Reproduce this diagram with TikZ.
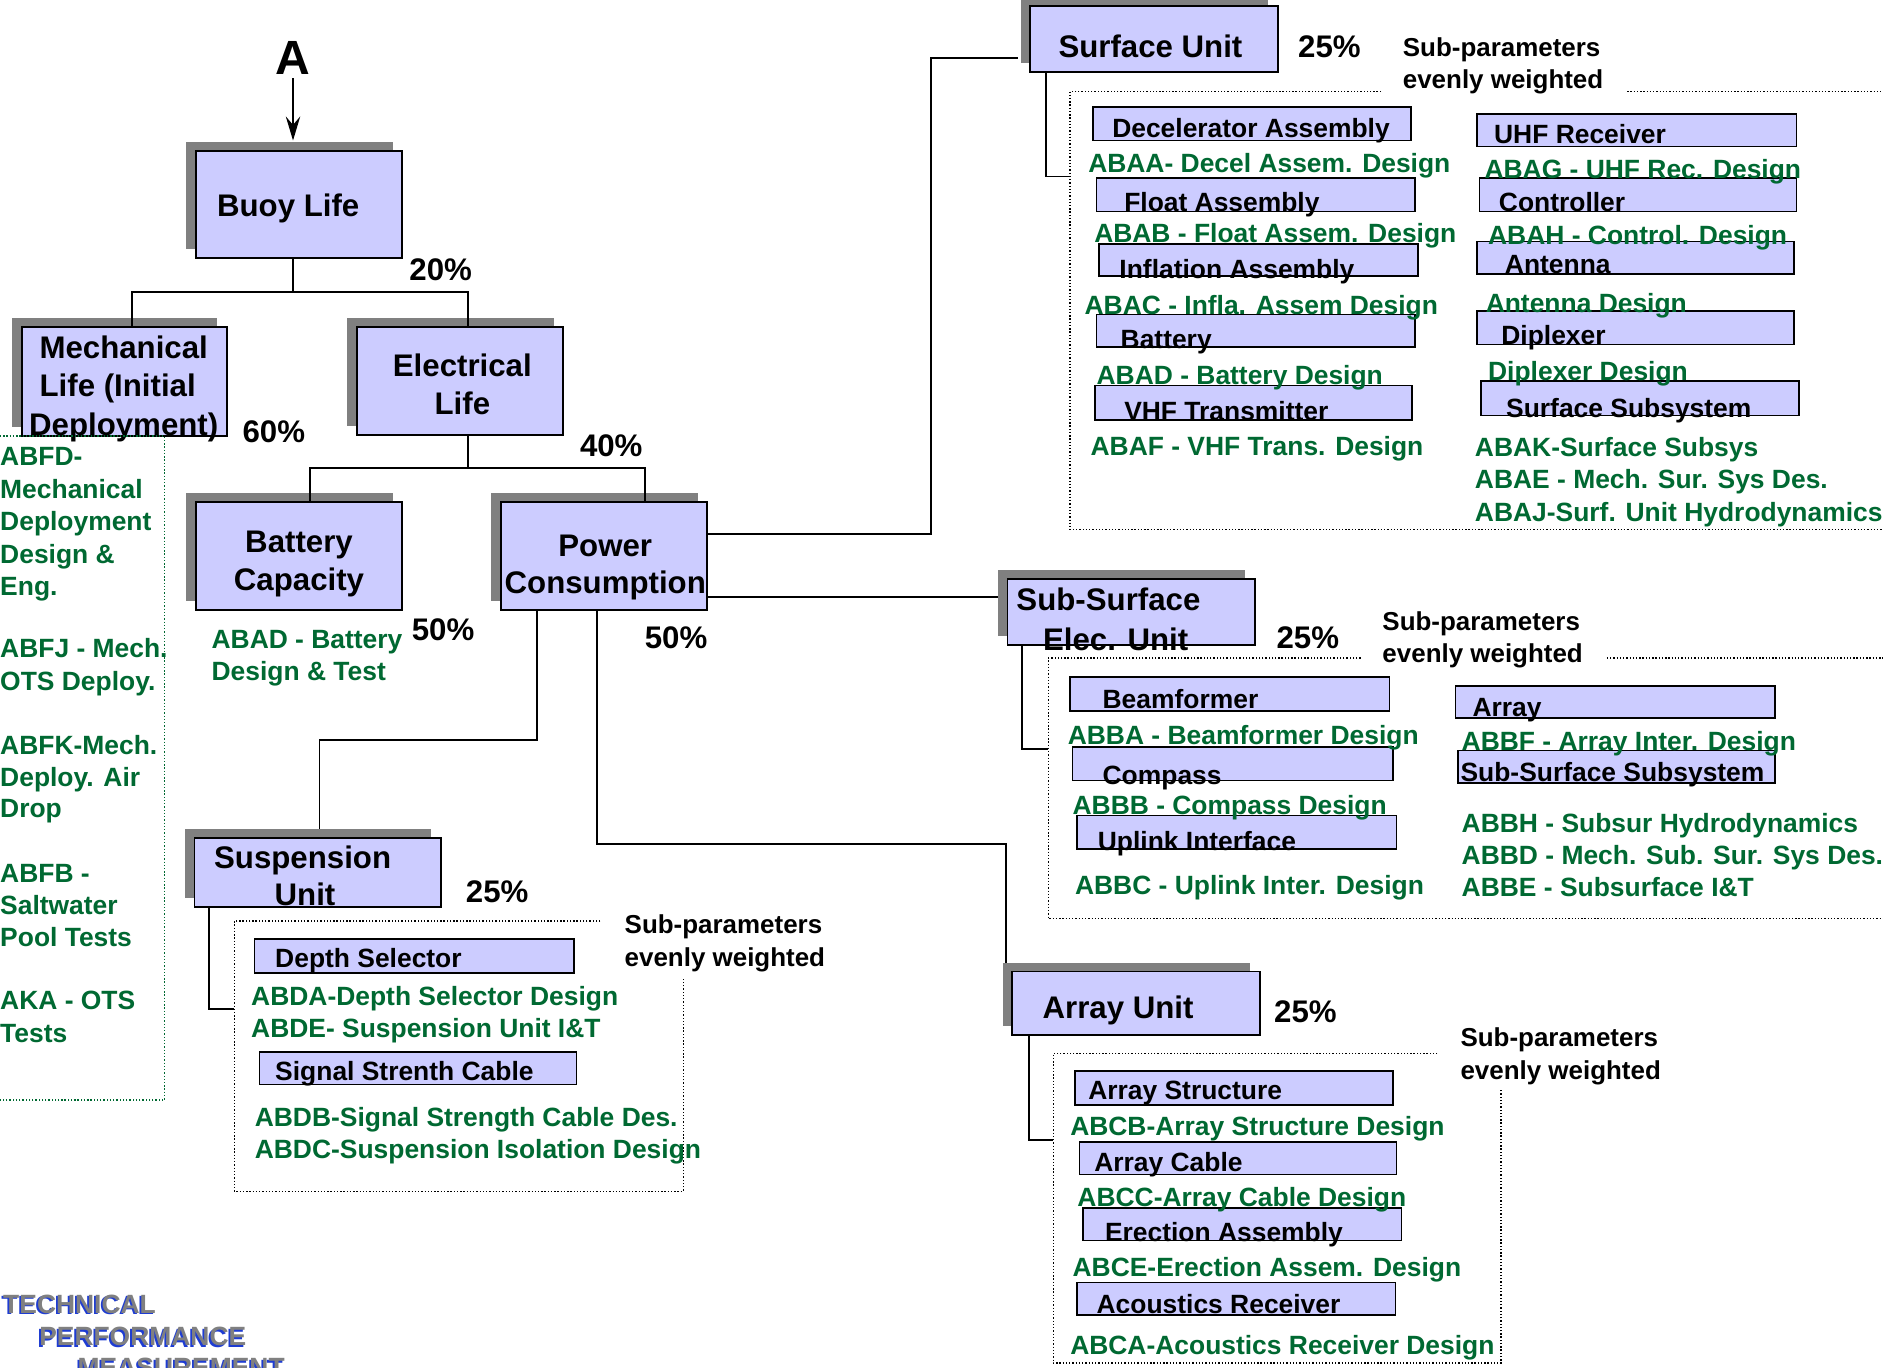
\documentclass[tikz,border=0pt]{standalone}
\usepackage{fontspec}
\setmainfont{Liberation Sans}
\usetikzlibrary{shadows,arrows.meta}
\definecolor{boxfill}{RGB}{204,204,255}
\definecolor{shgray}{RGB}{128,128,128}
\definecolor{dgreen}{RGB}{0,105,50}
\definecolor{tblue}{RGB}{30,60,210}
\definecolor{tgray}{RGB}{128,128,128}
\tikzset{
 mbox/.style={draw=black, line width=1.5pt, fill=boxfill, inner sep=0pt, outer sep=0pt,
   general shadow={fill=shgray, shadow xshift=-8pt, shadow yshift=7.5pt}},
 sbox/.style={draw=black, line width=1.4pt, fill=boxfill, inner sep=0pt, outer sep=0pt},
 mtxt/.style={font=\fontsize{26}{31}\selectfont\bfseries, inner sep=0pt, anchor=base},
 stxt/.style={font=\fontsize{22}{26}\selectfont\bfseries, inner sep=0pt, anchor=base west},
 ptxt/.style={font=\fontsize{21.6}{26}\selectfont\bfseries, inner sep=0pt, anchor=base west},
 gtxt/.style={font=\fontsize{22}{26}\selectfont\bfseries, text=dgreen, inner sep=0pt, anchor=base west},
 lgtxt/.style={font=\fontsize{22}{27}\selectfont\bfseries, text=dgreen, inner sep=0pt, anchor=base west},
 techtxt/.style={font=\fontsize{22}{27}\selectfont\bfseries, inner sep=0pt, anchor=base west},
 conn/.style={line width=1.5pt, draw=black},
 dotbox/.style={line width=1.1pt, dash pattern=on 1.1pt off 1.6pt},
}
\newcommand\MTX[4]{\node[mtxt] (#1) at ({#2},{#3+9.3}) {#4};}
\newcommand\GTX[4]{\node[gtxt] (#1) at ({#2},{#3+7.9}) {#4};}
\newcommand\LGT[4]{\node[lgtxt] (#1) at ({#2},{#3+7.9}) {#4};}
\newcommand\STX[4]{\node[ptxt] (#1) at ({#2},{#3+7.7}) {#4};}
\newcommand\MBX[5]{\node[mbox, minimum width={(#4-#2)*1pt}, minimum height={(#5-#3)*1pt}] (#1) at ({(#2+#4)/2},{(#3+#5)/2}) {};}
\newcommand\SBX[8]{\node[sbox, minimum width={(#4-#2)*1pt}, minimum height={(#5-#3)*1pt}] (#1) at ({(#2+#4)/2},{(#3+#5)/2}) {};
 \node[stxt] (#1t) at ({#6},{#7+7.9}) {#8};}
\begin{document}
\begin{tikzpicture}[x=1pt,y=-1pt]
\clip (0,0) rectangle (1568,1139);
\fill[white] (0,0) rectangle (1568,1139);

% ---------- connectors ----------
\coordinate (jb) at (244,243);
\coordinate (jbL) at (110,243);
\coordinate (jbR) at (390,243);
\coordinate (je) at (390,390);
\coordinate (jeL) at (258,390);
\coordinate (jeR) at (537,390);
\coordinate (p1) at (775,445);
\coordinate (p2) at (775,48);
\coordinate (ps) at (848,48);
\coordinate (p3) at (831,497);
\coordinate (q1) at (447,616);
\coordinate (q2) at (266,616);
\coordinate (q3) at (266,690);
\coordinate (r1) at (497,703);
\coordinate (r2) at (838,703);
\coordinate (r3) at (838,802);
\coordinate (s1) at (174,840);
\coordinate (s2) at (195,840);
\coordinate (t1) at (871,147);
\coordinate (t2) at (891,147);
\coordinate (u1) at (851,624);
\coordinate (u2) at (873,624);
\coordinate (v1) at (857,949);
\coordinate (v2) at (877,949);

% ---------- main boxes ----------
\MBX{buoy}{163}{126}{335}{215}
\MBX{mech}{18}{272}{189}{363}
\MBX{elec}{297}{272}{469}{362}
\MBX{batt}{163}{418}{335}{508}
\MBX{power}{417}{418}{589}{508}
\MBX{susp}{162}{698}{367}{755}
\MBX{surf}{858}{5}{1064}{60}
\MBX{subs}{839}{482}{1045}{537}
\MBX{arru}{843}{809}{1049}{862}

\draw[conn] (buoy.south -| jb) -- (jb);
\draw[conn] (mech.north -| jbL) -- (jbL) -- (jbR) -- (elec.north -| jbR);
\draw[conn] (elec.south -| je) -- (je);
\draw[conn] (batt.north -| jeL) -- (jeL) -- (jeR) -- (power.north -| jeR);
\draw[conn] (p1 -| power.east) -- (p1) -- (p2) -- (ps);
\draw[conn] (p3 -| power.east) -- (p3);
\draw[conn] (power.south -| q1) -- (q1) -- (q2) -- (q3);
\draw[conn] (power.south -| r1) -- (r1) -- (r2) -- (r3);
\draw[conn] (susp.south -| s1) -- (s1) -- (s2);
\draw[conn] (surf.south -| t1) -- (t1) -- (t2);
\draw[conn] (subs.south -| u1) -- (u1) -- (u2);
\draw[conn] (arru.south -| v1) -- (v1) -- (v2);

% ---------- arrow A ----------
\node[font=\fontsize{40}{44}\selectfont\bfseries, inner sep=0pt, anchor=base] (A) at (244,62) {A};
\coordinate (atip) at (244,117);
\draw[line width=1.5pt, -{Stealth[length=20pt,width=12pt,inset=7pt]}] ([yshift=-3pt]A.south) -- (atip);

% ---------- main texts ----------
\MTX{buoyt}{240}{171}{Buoy Life}
\MTX{mecht1}{103}{289}{Mechanical}
\MTX{mecht2}{98}{321}{Life (Initial}
\MTX{mecht3}{103}{353}{Deployment)}
\MTX{elect1}{385}{304}{Electrical}
\MTX{elect2}{385}{336}{Life}
\MTX{battt1}{249}{451}{Battery}
\MTX{battt2}{249}{482}{Capacity}
\MTX{powert1}{504}{454}{Power}
\MTX{powert2}{504}{485}{Consumption}
\MTX{suspt1}{252}{714}{Suspension}
\MTX{suspt2}{254}{745}{Unit}
\MTX{surft}{958}{39}{Surface Unit}
\MTX{subst1}{923}{499}{Sub-Surface}
\MTX{subst2}{929}{532}{Elec. Unit}
\MTX{arrut}{931}{839}{Array Unit}

% ---------- percentages ----------
\MTX{p20}{367}{224}{20\%}
\MTX{p60}{228}{359}{60\%}
\MTX{p40}{509}{371}{40\%}
\MTX{p50a}{369}{524}{50\%}
\MTX{p50b}{563}{531}{50\%}
\MTX{p25a}{414}{742}{25\%}
\MTX{p25b}{1107}{39}{25\%}
\MTX{p25c}{1089}{531}{25\%}
\MTX{p25d}{1087}{842}{25\%}

% ---------- mechanical green box ----------
\draw[dotbox, dgreen] (0,363) -- (137,363) -- (137,916) -- (0,916);
\LGT{g1}{0}{380}{ABFD-}
\LGT{g2}{0}{407}{Mechanical}
\LGT{g3}{0}{434}{Deployment}
\LGT{g4}{0}{461}{Design \&}
\LGT{g5}{0}{488}{Eng.}
\LGT{g6}{0}{540}{ABFJ - Mech.}
\LGT{g7}{0}{567}{OTS Deploy.}
\LGT{g8}{0}{620}{ABFK-Mech.}
\LGT{g9}{0}{647}{Deploy. Air}
\LGT{g10}{0}{673}{Drop}
\LGT{g11}{0}{727}{ABFB -}
\LGT{g12}{0}{754}{Saltwater}
\LGT{g13}{0}{780}{Pool Tests}
\LGT{g14}{0}{833}{AKA - OTS}
\LGT{g15}{0}{860}{Tests}

\GTX{gbat1}{176}{532}{ABAD - Battery}
\GTX{gbat2}{176}{559}{Design \& Test}

% ---------- suspension unit sub-parameters ----------
\draw[dotbox] (500,767) -- (195,767) -- (195,992) -- (569,992) -- (569,815);
\STX{sp1a}{520}{770}{Sub-parameters}
\STX{sp1b}{520}{797}{evenly weighted}
\SBX{dsel}{212}{782}{478}{810}{229}{798}{Depth Selector}
\SBX{ssc}{216}{876}{480}{903}{229}{892}{Signal Strenth Cable}
\GTX{gs1}{209}{829}{ABDA-Depth Selector Design}
\GTX{gs2}{209}{856}{ABDE- Suspension Unit I\&T}
\GTX{gs3}{212}{930}{ABDB-Signal Strength Cable Des.}
\GTX{gs4}{212}{957}{ABDC-Suspension Isolation Design}

% ---------- surface unit sub-parameters ----------
\draw[dotbox] (1150,76) -- (891,76) -- (891,441) -- (1568,441);
\draw[dotbox] (1355,76) -- (1568,76);
\STX{sp2a}{1168}{39}{Sub-parameters}
\STX{sp2b}{1168}{66}{evenly weighted}
\SBX{dec}{910}{89}{1175}{117}{926}{107}{Decelerator Assembly}
\SBX{flo}{913}{148}{1178}{176}{936}{168}{Float Assembly}
\SBX{inf}{915}{203}{1181}{230}{932}{224}{Inflation Assembly}
\SBX{bat}{913}{262}{1178}{289}{933}{282}{Battery}
\SBX{vhf}{912}{321}{1176}{350}{936}{342}{VHF Transmitter}
\SBX{uhf}{1230}{95}{1496}{122}{1244}{112}{UHF Receiver}
\SBX{ctl}{1232}{148}{1496}{176}{1248}{168}{Controller}
\SBX{ant}{1230}{201}{1494}{228}{1253}{220}{Antenna}
\SBX{dip}{1230}{259}{1494}{287}{1250}{279}{Diplexer}
\SBX{ssub}{1233}{317}{1498}{346}{1254}{340}{Surface Subsystem}
\GTX{ga1}{906}{136}{ABAA- Decel Assem. Design}
\GTX{ga2}{911}{194}{ABAB - Float Assem. Design}
\GTX{ga3}{903}{254}{ABAC - Infla. Assem Design}
\GTX{ga4}{913}{312}{ABAD - Battery Design}
\GTX{ga5}{908}{371}{ABAF - VHF Trans. Design}
\GTX{ga6}{1236}{141}{ABAG - UHF Rec. Design}
\GTX{ga7}{1239}{196}{ABAH - Control. Design}
\GTX{ga8}{1237}{252}{Antenna Design}
\GTX{ga9}{1239}{309}{Diplexer Design}
\GTX{ga10}{1228}{372}{ABAK-Surface Subsys}
\GTX{ga11}{1228}{399}{ABAE - Mech. Sur. Sys Des.}
\GTX{ga12}{1228}{426}{ABAJ-Surf. Unit Hydrodynamics}

% ---------- sub-surface sub-parameters ----------
\draw[dotbox] (1133,548) -- (873,548) -- (873,765) -- (1568,765);
\draw[dotbox] (1338,548) -- (1568,548);
\STX{sp3a}{1151}{517}{Sub-parameters}
\STX{sp3b}{1151}{544}{evenly weighted}
\SBX{bea}{891}{564}{1157}{592}{918}{582}{Beamformer}
\SBX{com}{893}{622}{1160}{650}{918}{645}{Compass}
\SBX{upl}{897}{679}{1163}{707}{914}{700}{Uplink Interface}
\SBX{arr}{1212}{571}{1478}{598}{1226}{589}{Array}
\SBX{sss}{1214}{625}{1478}{652}{1216}{643}{Sub-Surface Subsystem}
\GTX{gb1}{889}{612}{ABBA - Beamformer Design}
\GTX{gb2}{893}{670}{ABBB - Compass Design}
\GTX{gb3}{895}{737}{ABBC - Uplink Inter. Design}
\GTX{gb4}{1217}{617}{ABBF - Array Inter. Design}
\GTX{gb5}{1217}{685}{ABBH - Subsur Hydrodynamics}
\GTX{gb6}{1217}{712}{ABBD - Mech. Sub. Sur. Sys Des.}
\GTX{gb7}{1217}{739}{ABBE - Subsurface I\&T}

% ---------- array unit sub-parameters ----------
\draw[dotbox] (1197,877) -- (877,877) -- (877,1135) -- (1250,1135) -- (1250,907);
\STX{sp4a}{1216}{864}{Sub-parameters}
\STX{sp4b}{1216}{891}{evenly weighted}
\SBX{ast}{895}{892}{1160}{920}{906}{908}{Array Structure}
\SBX{aca}{899}{951}{1163}{978}{911}{968}{Array Cable}
\SBX{ere}{902}{1006}{1167}{1033}{920}{1026}{Erection Assembly}
\SBX{acr}{897}{1068}{1162}{1095}{913}{1086}{Acoustics Receiver}
\GTX{gc1}{891}{938}{ABCB-Array Structure Design}
\GTX{gc2}{897}{997}{ABCC-Array Cable Design}
\GTX{gc3}{893}{1055}{ABCE-Erection Assem. Design}
\GTX{gc4}{891}{1120}{ABCA-Acoustics Receiver Design}

% ---------- logo text ----------
\node[techtxt, text=tblue] (tb1) at (1,1095) {TECHNICAL};
\node[techtxt, text=tgray] (tg1) at (2.5,1093.5) {TECHNICAL};
\node[techtxt, text=tblue] (tb2) at (31,1122) {PERFORMANCE};
\node[techtxt, text=tgray] (tg2) at (32.5,1120.5) {PERFORMANCE};
\node[techtxt, text=tblue] (tb3) at (63,1148) {MEASUREMENT};
\node[techtxt, text=tgray] (tg3) at (64.5,1146.5) {MEASUREMENT};
\end{tikzpicture}
\end{document}
